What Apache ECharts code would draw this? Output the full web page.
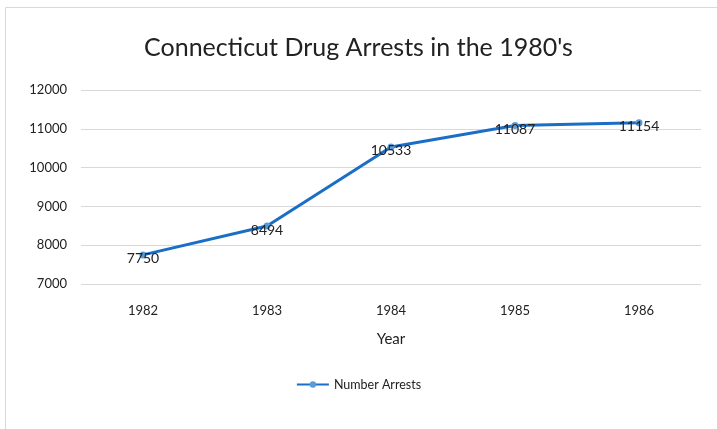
<!DOCTYPE html>
<html><head><meta charset="utf-8">
<script src="https://cdn.jsdelivr.net/npm/echarts@6/dist/echarts.min.js"></script>
<style>html,body{margin:0;padding:0;background:#fff}#c{width:717px;height:429px}</style>
</head><body><div id="c"></div>
<script>
const years = ['1982','1983','1984','1985','1986'];
const arrests = [7750, 8494, 10533, 11087, 11154];
const seriesName = 'Number Arrests';
const titleText = "Connecticut Drug Arrests in the 1980's";
const xAxisName = 'Year';

const chart = echarts.init(document.getElementById('c'));
const font = 'Lato, "Open Sans", sans-serif';
chart.setOption({
  animation: false,
  graphic: [{type:'rect', shape:{x:5.5,y:7.5,width:730,height:440}, style:{fill:'none', stroke:'#d9d9d9', lineWidth:1}}],
  title: {text: titleText, left: 'center', top: 30, textStyle:{fontFamily:font, fontSize:25, fontWeight:'normal', color:'#222'}},
  grid: {left: 81, right: 16, top: 90, bottom: 145},
  legend: {bottom: 33, left:'center', data:[seriesName], itemWidth: 32, itemHeight: 8, itemGap: 2,
    textStyle:{fontFamily:font, fontSize:12.5, color:'#222'}},
  xAxis: {type:'category', data: years, name: xAxisName, nameLocation:'middle', nameGap: 48,
    nameTextStyle:{fontFamily:font, fontSize:15, color:'#222'},
    axisLine:{show:false}, axisTick:{show:false},
    axisLabel:{fontFamily:font, fontSize:13, color:'#222', margin:20}},
  yAxis: {type:'value', min:7000, max:12000, interval:1000,
    axisLine:{show:false}, axisTick:{show:false},
    splitLine:{lineStyle:{color:'#d9d9d9', width:1}},
    axisLabel:{fontFamily:font, fontSize:13, color:'#222', margin:14, formatter: v => String(v)}},
  series: [{
    name: seriesName, type:'line', data: arrests,
    symbol:'circle', symbolSize:7,
    lineStyle:{color:'#1a6ec6', width:3},
    itemStyle:{color:'#5b9bd5'},
    label:{show:true, position:'inside', offset:[0,4], fontFamily:font, fontSize:14, color:'#222'}
  }]
});
</script></body></html>
